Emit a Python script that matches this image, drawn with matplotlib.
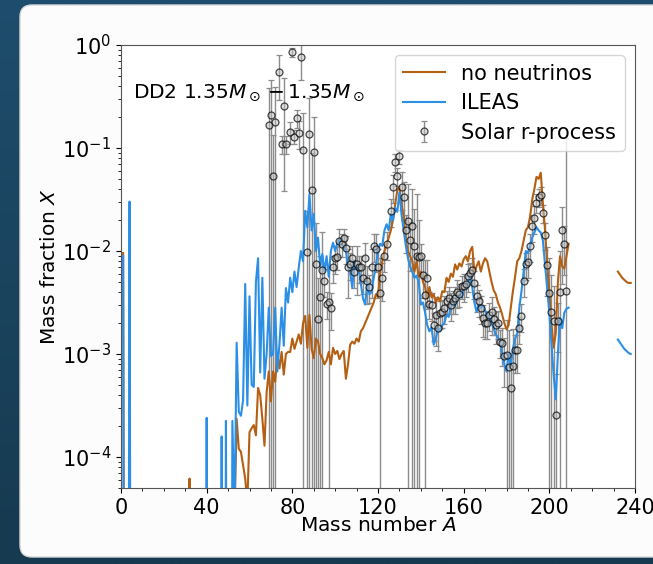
import numpy as np
import matplotlib
matplotlib.use("Agg")
import matplotlib.pyplot as plt
from matplotlib.patches import FancyBboxPatch
from matplotlib.ticker import MultipleLocator

# values below the plotted range (drawn off the bottom of the log axis)
BELOW = -12.0

# mass numbers of the network lines
A_main = np.arange(1, 210)
A_tail = np.arange(232, 239)

# log10 mass fraction, "no neutrinos" run, A = 1..209
nonu_log = ([-2.02] + [BELOW] * 30 + [-4.21] + [BELOW] * 20 + [-4.60] +
    [-3.63, -3.92, -3.95, -4.08, -4.21, -4.45, -3.76] +
    [-3.72, -3.69, -3.79, -3.33, -3.40, -3.63, -3.89, -3.37, -3.17, -3.46] +
    [-3.17, -3.27, -3.00, -3.14, -2.98, -3.20, -3.00, -2.98, -2.98, -2.85] +
    [-2.95, -2.88, -2.81, -2.90, -2.70, -2.63, -2.94, -2.62, -2.95, -3.04] +
    [-2.85, -2.88, -3.00, -3.04, -3.10, -3.06, -2.98, -3.10, -2.94, -3.00] +
    [-2.97, -3.05, -3.00, -2.97, -3.24, -3.10, -2.91, -2.88, -2.90, -2.85] +
    [-2.88, -2.78, -2.75, -2.70, -2.65, -2.60, -2.55, -2.50, -2.42, -2.45] +
    [-2.20, -2.10, -2.00, -1.95, -1.87, -1.80, -1.70, -1.55, -1.41, -1.38] +
    [-1.55, -1.67, -1.90, -2.00, -2.05, -2.10, -2.20, -2.10, -2.25, -2.20] +
    [-2.30, -2.35, -2.46, -2.35, -2.45, -2.42, -2.50, -2.45, -2.49, -2.39] +
    [-2.40, -2.26, -2.30, -2.22, -2.25, -2.13, -2.18, -2.12, -2.15, -2.08] +
    [-2.05, -2.10, -2.00, -1.96, -2.20, -2.15, -2.10, -2.20, -2.12, -2.07] +
    [-2.10, -2.20, -2.30, -2.38, -2.42, -2.50, -2.55, -2.62, -2.70, -2.76] +
    [-2.72, -2.55, -2.39, -2.25, -2.10, -2.07, -2.00, -1.90, -1.80, -1.77] +
    [-1.67, -1.50, -1.40, -1.28, -1.30, -1.24, -1.54, -1.80, -2.13, -2.40] +
    [-2.70, -2.94, -2.80, -2.30, -2.05, -2.15, -2.17, -2.05, -1.93])
nonu_tail = [-2.20, -2.23, -2.26, -2.28, -2.30, -2.31, -2.31]

# log10 mass fraction, ILEAS run, A = 1..209
ileas_log = ([-2.05] + [BELOW] * 2 + [-1.52] + [BELOW] * 35 + [-3.62] +
    [BELOW] * 6 + [-3.80, BELOW, -3.65, BELOW, BELOW, -3.65, -4.60] +
    [-2.89, -3.56, -3.60, -3.45, -2.32, -3.50, -2.44] +
    [-3.30, -3.32, -2.30, -2.07, -3.18, -2.26, -3.24, -3.00, -2.55, -3.02] +
    [-3.00, -2.55, -3.17, -2.90, -2.55, -2.92, -2.36, -2.50, -2.26, -2.40] +
    [-2.20, -2.35, -2.16, -2.00, -2.10, -1.61, -1.77, -1.45, -1.80, -1.64] +
    [-2.00, -1.87, -2.15, -2.03, -2.20, -2.05, -2.25, -2.00, -1.92, -2.00] +
    [-1.92, -1.88, -1.93, -1.97, -2.00, -2.15, -2.20, -2.36, -2.10, -2.18] +
    [-2.15, -2.32, -2.46, -2.52, -2.30, -2.42, -2.40, -2.26, -2.15, -2.00] +
    [-1.93, -1.95, -1.80, -1.74, -1.80, -1.64, -1.70, -1.58, -1.62, -1.43] +
    [-1.65, -1.80, -1.95, -2.07, -2.15, -2.20, -2.26, -2.24, -2.30, -2.52] +
    [-2.50, -2.60, -2.72, -2.78, -2.74, -2.91, -2.85, -2.75, -2.78, -2.72] +
    [-2.70, -2.62, -2.64, -2.55, -2.49, -2.53, -2.45, -2.42, -2.45, -2.38] +
    [-2.36, -2.30, -2.24, -2.35, -2.50, -2.59, -2.52, -2.55, -2.53, -2.58] +
    [-2.62, -2.65, -2.70, -2.75, -2.81, -2.84, -2.88, -3.00, -3.10, -3.17] +
    [-3.00, -3.12, -2.95, -2.85, -2.80, -2.55, -2.39, -2.20, -2.00, -2.02] +
    [-1.95, -1.87, -1.82, -1.77, -1.80, -1.82, -1.90, -2.13, -2.37, -2.60] +
    [-2.90, -3.20, -3.44, -3.00, -2.65, -2.75, -2.60, -2.56, -2.55])
ileas_tail = [-2.86, -2.89, -2.92, -2.95, -2.97, -2.99, -3.00]

# solar r-process residuals
solar_A = [69, 70, 71, 72, 74, 75, 76, 77, 79, 80,
           81, 82, 83, 84, 85, 87, 88, 89, 90, 91,
           92, 93, 94, 95, 96, 97, 98, 99, 100, 101,
           102, 103, 104, 105, 106, 107, 108, 109, 110, 111,
           112, 113, 114, 115, 116, 117, 118, 119, 120, 121,
           122, 123, 124, 126, 127, 128, 129, 130, 131, 132,
           133, 134, 135, 136, 137, 138, 139, 140, 141, 142,
           143, 144, 145, 146, 147, 148, 149, 150, 151, 152,
           153, 154, 155, 156, 157, 158, 159, 160, 161, 162,
           163, 164, 165, 166, 167, 168, 169, 170, 171, 172,
           173, 174, 175, 176, 177, 178, 179, 180, 181, 182,
           183, 184, 185, 186, 187, 188, 189, 190, 191, 192,
           193, 194, 195, 196, 197, 198, 199, 200, 201, 202,
           203, 204, 205, 206, 207, 208]
solar_log = [-0.78, -0.68, -1.27, -0.75, -0.26, -0.96, -0.59, -0.96, -0.84, -0.07,
             -0.89, -0.71, -0.85, -0.12, -1.02, -2.01, -0.86, -1.41, -1.04, -2.13,
             -2.66, -2.45, -2.18, -2.29, -2.51, -2.50, -2.55, -2.16, -2.07, -2.06,
             -1.90, -1.93, -1.87, -1.97, -2.16, -2.13, -2.07, -2.20, -2.13, -2.16,
             -2.16, -2.26, -2.07, -2.29, -2.35, -2.16, -1.95, -1.98, -2.16, -2.41,
             -2.26, -2.05, -1.93, -1.61, -1.38, -1.14, -1.27, -1.08, -1.38, -1.48,
             -1.80, -1.71, -1.89, -1.76, -1.95, -2.05, -2.06, -2.05, -2.23, -2.43,
             -2.26, -2.51, -2.52, -2.72, -2.62, -2.75, -2.60, -2.59, -2.55, -2.49,
             -2.46, -2.52, -2.49, -2.46, -2.40, -2.42, -2.34, -2.34, -2.32, -2.24,
             -2.21, -2.18, -2.31, -2.44, -2.49, -2.55, -2.65, -2.70, -2.70, -2.62,
             -2.59, -2.66, -2.72, -2.70, -2.88, -2.89, -3.02, -3.01, -3.13, -3.33,
             -3.12, -2.96, -2.96, -2.75, -2.63, -2.29, -2.13, -2.11, -1.95, -1.76,
             -1.68, -1.53, -1.48, -1.46, -1.63, -1.84, -2.14, -2.41, -2.59, -2.68,
             -3.59, -2.68, -2.40, -1.80, -1.93, -2.39]
# relative uncertainty (>= 1 means the lower bar runs off the axis)
solar_rel = [1.3, 1.2, 1.5, 1.2, 0.47, 0.2, 0.85, 0.2, 0.25, 0.1,
             0.15, 0.2, 0.3, 0.4, 1.3, 1.5, 1.2, 1.3, 1.2, 1.5,
             1.5, 1.5, 1.3, 0.3, 0.3, 1.2, 0.4, 0.3, 0.3, 0.25,
             0.3, 0.25, 0.2, 0.3, 0.5, 0.3, 0.3, 0.3, 0.5, 0.3,
             0.3, 0.3, 0.4, 0.4, 0.3, 0.5, 0.3, 0.4, 0.5, 1.2,
             0.4, 0.3, 0.3, 0.3, 0.3, 0.2, 0.2, 0.15, 0.4, 0.4,
             0.4, 1.3, 0.5, 1.3, 1.3, 3.0, 1.3, 0.3, 0.4, 1.2,
             0.5, 0.3, 0.3, 0.3, 0.5, 0.4, 0.3, 0.3, 0.3, 0.25,
             0.3, 0.3, 0.25, 0.3, 0.3, 0.25, 0.25, 0.3, 0.25, 0.3,
             0.25, 0.3, 0.3, 0.3, 0.3, 0.3, 0.35, 0.3, 0.3, 0.3,
             0.4, 0.3, 0.35, 0.3, 0.3, 0.4, 0.5, 1.2, 1.3, 1.2,
             1.3, 0.4, 0.4, 0.3, 0.3, 0.3, 0.3, 0.3, 0.3, 0.3,
             0.3, 0.2, 0.2, 0.2, 0.2, 0.3, 0.5, 1.2, 1.3, 1.2,
             1.5, 0.5, 1.5, 0.7, 0.5, 30.0]

brown = "#b45f12"
blue = "#2b8fe6"

fig = plt.figure(figsize=(6.53, 5.64), dpi=100)

# page background + white card
bg = fig.add_axes([0, 0, 1, 1])
grad = np.linspace(0, 1, 256).reshape(-1, 1)
bg.imshow(grad, aspect="auto", extent=[0, 653, 564, 0],
          cmap=matplotlib.colors.LinearSegmentedColormap.from_list("bg", ["#1e4d6d", "#163a4f"]))
bg.add_patch(FancyBboxPatch((20, 5), 700, 552, boxstyle="round,pad=0,rounding_size=12",
                            fc="#fcfcfc", ec="#d8d8d8", lw=1))
bg.set_xlim(0, 653)
bg.set_ylim(564, 0)
bg.axis("off")

ax = fig.add_axes([121 / 653, 1 - 488 / 564, (635 - 121) / 653, (488 - 45) / 564])
ax.set_facecolor("white")

sy = 10 ** np.array(solar_log)
rel = np.array(solar_rel)
err_hi = sy * rel
err_lo = np.where(rel >= 1, sy * (1 - 1e-9), sy * rel)
eb = ax.errorbar(solar_A, sy, yerr=[err_lo, err_hi], fmt="o", ms=5,
                 mfc=(0.75, 0.75, 0.75, 0.5), mec=(0, 0, 0, 0.7), mew=0.9,
                 ecolor="#8c8c8c", elinewidth=1.0, capsize=2, label="Solar r-process")
# bars behind the model lines, circles on top
eb[0].set_zorder(4)
for c in eb[1]:
    c.set_zorder(1.5)
for c in eb[2]:
    c.set_zorder(1.5)

ax.plot(A_main, 10 ** np.array(nonu_log), color=brown, lw=1.5, label="no neutrinos", zorder=2.5)
ax.plot(A_tail, 10 ** np.array(nonu_tail), color=brown, lw=1.5, zorder=2.5)
ax.plot(A_main, 10 ** np.array(ileas_log), color=blue, lw=1.5, label="ILEAS", zorder=2.6)
ax.plot(A_tail, 10 ** np.array(ileas_tail), color=blue, lw=1.5, zorder=2.6)

ax.set_yscale("log")
ax.set_ylim(5e-5, 1)
ax.set_xlim(0, 240)
ax.xaxis.set_major_locator(MultipleLocator(40))
ax.xaxis.set_minor_locator(MultipleLocator(10))
ax.tick_params(labelsize=15)
for s in ax.spines.values():
    s.set_color("#555555")

ax.set_xlabel("Mass number $A$", fontsize=14.5, labelpad=-1)
ax.set_ylabel("Mass fraction $X$", fontsize=14.5, labelpad=2)
ax.text(0.023, 0.892, r"DD2 1.35$M_\odot-1.35M_\odot$", transform=ax.transAxes,
        fontsize=14.5, va="center")
handles, labels = ax.get_legend_handles_labels()
order = [labels.index(n) for n in ["no neutrinos", "ILEAS", "Solar r-process"]]
ax.legend([handles[i] for i in order], [labels[i] for i in order],
          loc="upper right", fontsize=15, handlelength=2.0, borderaxespad=0.5,
          labelspacing=0.45)

fig.savefig("out.png", dpi=100)
